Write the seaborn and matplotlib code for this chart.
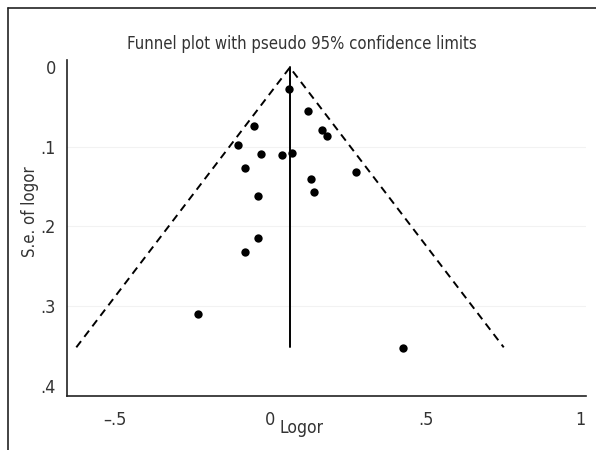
import matplotlib
matplotlib.use("Agg")
import matplotlib.pyplot as plt
from matplotlib.lines import Line2D
import seaborn as sns
import pandas as pd

# study estimates
logor = [0.060, 0.121, -0.052, 0.167, 0.182, -0.103, -0.029, 0.039, 0.070,
         -0.083, 0.276, 0.130, 0.141, -0.040, -0.040, -0.082, -0.234, 0.427]
se_logor = [0.027, 0.055, 0.074, 0.079, 0.086, 0.097, 0.109, 0.110, 0.107,
            0.127, 0.132, 0.140, 0.156, 0.162, 0.215, 0.232, 0.310, 0.353]

# pooled estimate and pseudo 95% limits
pooled = 0.063
funnel_x = [-0.625, 0.063, 0.752]
funnel_y = [0.352, 0.0, 0.352]
se_max = 0.352

xticks = [-0.5, 0, 0.5, 1]
xtick_labels = ["\u2013.5", "0", ".5", "1"]
yticks = [0, 0.1, 0.2, 0.3, 0.4]
ytick_labels = ["0", ".1", ".2", ".3", ".4"]

sns.set_style("white")
plt.rcParams['font.family'] = ['DejaVu Sans']
plt.rcParams['font.stretch'] = 'condensed'

df = pd.DataFrame({"logor": logor, "se": se_logor})

fig = plt.figure(figsize=(5.96, 4.5), dpi=100)
ax = fig.add_axes([67 / 596, 1 - 396 / 450, 519 / 596, 336 / 450])

for t in [0.1, 0.2, 0.3]:
    ax.axhline(t, color="#f2f2f2", lw=0.8, zorder=0)

ax.plot(funnel_x, funnel_y, color="black", ls=(0, (4, 2.8)), lw=1.4)
ax.plot([pooled, pooled], [0, se_max], color="black", lw=1.4)
sns.scatterplot(data=df, x="logor", y="se", ax=ax, color="black",
                s=36, edgecolor="black", linewidth=0, zorder=3)

ax.set_xlim(-0.655, 1.017)
ax.set_ylim(0.4132, -0.0094)
ax.set_xticks(xticks)
ax.set_xticklabels(xtick_labels)
ax.set_yticks(yticks)
ax.set_yticklabels(ytick_labels)
ax.tick_params(axis="both", direction="out", length=5, width=1,
               colors="#333333", labelsize=13, pad=3)
ax.tick_params(axis="x", pad=6)

for side in ["top", "right"]:
    ax.spines[side].set_visible(False)
for side in ["left", "bottom"]:
    ax.spines[side].set_color("#222222")
    ax.spines[side].set_linewidth(1.2)

ax.set_xlabel("Logor", fontsize=12.5, color="#333333")
ax.xaxis.set_label_coords(0.451, -0.068)
ax.set_ylabel("S.e. of logor", fontsize=12, color="#333333")
ax.yaxis.set_label_coords(-0.054, 0.55)

fig.text(302 / 596, 1 - 44 / 450, "Funnel plot with pseudo 95% confidence limits",
         ha="center", va="center", fontsize=12, color="#333333")

# outer frame (partially cropped in the original)
fig.add_artist(Line2D([8 / 596, 8 / 596], [0, 1 - 8 / 450],
                      transform=fig.transFigure, color="#222222", lw=1.2))
fig.add_artist(Line2D([8 / 596, 1], [1 - 8 / 450, 1 - 8 / 450],
                      transform=fig.transFigure, color="#222222", lw=1.2))

fig.savefig("out.png", dpi=100)
